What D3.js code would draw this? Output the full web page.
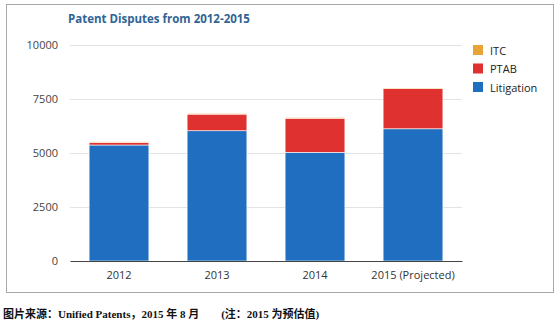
<!DOCTYPE html>
<html>
<head>
<meta charset="utf-8">
<script src="https://cdn.jsdelivr.net/npm/d3@7"></script>
<style>
  html, body { margin: 0; padding: 0; background: #fff; }
  svg { display: block; }
</style>
</head>
<body>
<svg id="chart" width="560" height="324"></svg>
<script>
// Patent disputes by year, stacked by venue
const years = ["2012", "2013", "2014", "2015 (Projected)"];
const litigation = [5370, 6030, 5030, 6120];
const ptab = [120, 770, 1580, 1860];
const itc = [30, 40, 40, 30];
const seriesNames = ["Litigation", "PTAB", "ITC"];
const yTicks = [0, 2500, 5000, 7500, 10000];
const colors = { Litigation: "#1f6ebf", PTAB: "#e03131", ITC: "#e8a437" };

const rows = years.map((y, i) => ({ year: y, Litigation: litigation[i], PTAB: ptab[i], ITC: itc[i] }));
const stacked = d3.stack().keys(seriesNames)(rows);

const svg = d3.select("#chart");

// outer frame
svg.append("rect")
  .attr("x", 6.5).attr("y", 4.5).attr("width", 547).attr("height", 288)
  .attr("fill", "#fff").attr("stroke", "#a8a8a8").attr("stroke-width", 1);

const x = d3.scaleBand().domain(years).range([70, 462]).paddingInner(0.39).paddingOuter(0.195);
const y = d3.scaleLinear().domain([0, 10000]).range([261, 45]);

// title
svg.append("text")
  .attr("x", 68).attr("y", 23)
  .attr("font-family", "'Open Sans', 'DejaVu Sans', sans-serif")
  .attr("font-size", 11.5).attr("font-weight", "bold")
  .attr("fill", "#2f6494")
  .text("Patent Disputes from 2012-2015");

// gridlines + y labels
const yAxis = d3.axisLeft(y).tickValues(yTicks).tickFormat(d3.format("d"))
  .tickSize(-(462 - 70)).tickPadding(12);
const gy = svg.append("g").attr("transform", "translate(70,0)").call(yAxis);
gy.select(".domain").remove();
gy.selectAll(".tick line").attr("stroke", "#e3e3e3").attr("stroke-width", 1);
gy.selectAll(".tick text")
  .attr("font-family", "'Open Sans', 'DejaVu Sans', sans-serif")
  .attr("font-size", 11).attr("fill", "#444");

// bars
svg.append("g").selectAll("g").data(stacked).join("g")
  .attr("fill", d => colors[d.key])
  .selectAll("rect").data(d => d).join("rect")
  .attr("x", d => x(d.data.year))
  .attr("width", x.bandwidth())
  .attr("y", d => y(d[1]))
  .attr("height", d => y(d[0]) - y(d[1]))
  .attr("stroke", "#fff").attr("stroke-width", 0.6);

// baseline + x labels
const xAxis = d3.axisBottom(x).tickSize(0).tickPadding(10);
const gx = svg.append("g").attr("transform", `translate(0,${y(0)})`).call(xAxis);
gx.select(".domain").attr("stroke", "#444").attr("stroke-width", 1.2);
gx.selectAll(".tick text")
  .attr("font-family", "'Open Sans', 'DejaVu Sans', sans-serif")
  .attr("font-size", 11).attr("fill", "#333");

// legend
const legendOrder = ["ITC", "PTAB", "Litigation"];
const lg = svg.append("g").selectAll("g").data(legendOrder).join("g")
  .attr("transform", (d, i) => `translate(473,${45 + i * 18.5})`);
lg.append("rect").attr("width", 10).attr("height", 10).attr("fill", d => colors[d]);
lg.append("text").attr("x", 17).attr("y", 9.5)
  .attr("font-family", "'Open Sans', 'DejaVu Sans', sans-serif")
  .attr("font-size", 11).attr("fill", "#222")
  .text(d => d);

// source note
svg.append("text")
  .attr("x", 3).attr("y", 318)
  .attr("font-family", "'Liberation Serif', 'Noto Sans CJK SC', serif")
  .attr("font-size", 11).attr("font-weight", "bold").attr("fill", "#111")
  .attr("xml:space", "preserve")
  .text("图片来源：Unified Patents，2015 年 8 月        (注：2015 为预估值)");
</script>
</body>
</html>
